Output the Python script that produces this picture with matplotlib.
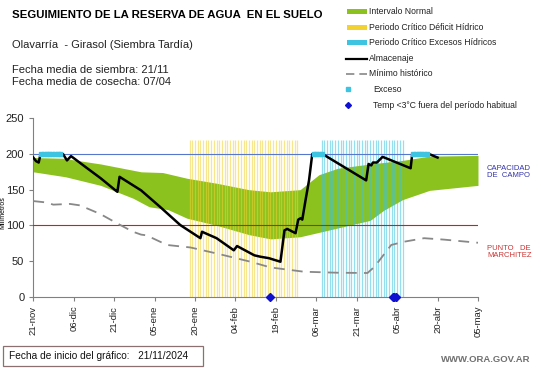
import matplotlib
matplotlib.use("Agg")
import matplotlib.pyplot as plt
from matplotlib.lines import Line2D
from matplotlib.patches import Rectangle
import numpy as np

plt.rcParams['font.family'] = ['Liberation Sans', 'DejaVu Sans']

# ---------------- data (days since 21-nov-2024) ----------------
tick_days = [0, 15, 30, 45, 60, 75, 90, 105, 120, 135, 150, 165]
tick_labels = ['21-nov', '06-dic', '21-dic', '05-ene', '20-ene', '04-feb',
               '19-feb', '06-mar', '21-mar', '05-abr', '20-abr', '05-may']

band_days = [0, 11, 25, 40, 48, 57, 68, 80, 88, 99, 106, 113, 125, 137, 147, 165]
band_upper = [195, 194, 186, 175, 174, 166, 159, 150, 147, 150, 171, 180, 186, 191, 197, 198]
band_low_days = [0, 12, 25, 37, 43, 50, 57, 68, 80, 88, 99, 107, 125, 130, 137, 147, 165]
band_lower = [175, 168, 156, 138, 126, 122, 110, 100, 87, 81, 84, 91, 107, 121, 136, 149, 156]

min_days = [0, 5, 7.4, 13.6, 17.3, 24.8, 31, 37, 40, 42, 49.6, 55.8, 58.3, 68, 80.6, 88,
            100.4, 112.8, 124, 126.6, 132.8, 137.5, 145, 152.4, 165]
min_hist = [134, 132, 129, 130, 128, 116, 103, 91, 87, 86, 72.5, 70, 69, 60.6, 49, 41,
            35, 33.6, 33.2, 42, 72.5, 77, 82, 80, 75.6]

alm_days = [0, 1, 2, 2.7, 11, 12.5, 14, 20, 25, 30.5, 31.2, 32, 40, 47, 54.5, 62, 62.6,
            68, 74.4, 75.6, 82, 84.3, 87.4, 91.7, 93.2, 94.2, 97.3, 98.3, 99.2, 99.8,
            101, 102.3, 103.5, 107.3, 123.5, 124.4, 125.4, 126, 127.5, 128, 129.6,
            140, 140.6, 146.8, 150]
almacenaje = [195, 190, 188, 200, 200, 191, 197, 180, 166, 149, 147, 168, 149, 126, 100.5,
              82, 91, 82, 65, 71, 58, 56, 54, 49, 93, 95, 89, 108, 110, 108,
              135, 163, 200, 200, 163, 186, 184, 188, 188, 190, 196,
              180, 200, 200, 195]

exceso_days = [3, 4, 5, 6, 7, 8, 9, 10, 104, 105, 106, 107, 141, 142, 143, 144, 145, 146]
exceso_vals = [200] * len(exceso_days)

deficit_days = list(range(58, 99))
excesos_crit_days = list(range(107, 138))
crit_top = 220

frost_days = [88, 133.5, 134, 134.5]
frost_vals = [0, 0, 0, 0]

capacidad = 200
marchitez = 100

# ---------------- colours ----------------
c_green = '#8cc21e'
c_yellow = '#f2d230'
c_cyan = '#3ec3e0'
c_blue_line = '#5577cc'
c_red_line = '#cc2020'

W, H = 541, 368
fig = plt.figure(figsize=(W / 100, H / 100), dpi=100)
fig.patch.set_facecolor('white')

ax = fig.add_axes([33.3 / W, 1 - 296.7 / H, (478 - 33.3) / W, (296.7 - 118.3) / H])
ax.set_xlim(0, 165)
ax.set_ylim(0, 250)

# green band
ub = np.interp(np.arange(0, 166), band_days, band_upper)
lb = np.interp(np.arange(0, 166), band_low_days, band_lower)
ax.fill_between(np.arange(0, 166), lb, ub, color=c_green, lw=0, zorder=1)

# critical period vertical lines
ax.vlines(deficit_days, 0, crit_top, colors=c_yellow, lw=0.9, alpha=0.55, zorder=2)
ax.vlines(excesos_crit_days, 0, crit_top, colors=c_cyan, lw=0.9, alpha=0.55, zorder=2)

# reference lines
ax.axhline(capacidad, color=c_blue_line, lw=0.8, zorder=3)
ax.axhline(marchitez, color=c_red_line, lw=0.8, zorder=3)

# minimum historic
ax.plot(min_days, min_hist, color='#888888', lw=1.3, dashes=(6, 4), zorder=4)

# storage
ax.plot(alm_days, almacenaje, color='black', lw=1.8, zorder=5)

# excess points
ax.plot(exceso_days, exceso_vals, ls='none', marker='s', ms=2.6, color=c_cyan, zorder=6)

# frost
ax.plot(frost_days, frost_vals, ls='none', marker='D', ms=4, color='#1010d0',
        zorder=7, clip_on=False)

for s in ['top', 'right']:
    ax.spines[s].set_visible(False)
for s in ['left', 'bottom']:
    ax.spines[s].set_color('#808080')
    ax.spines[s].set_linewidth(0.8)
ax.set_xticks(tick_days)
ax.set_xticklabels(tick_labels, rotation=90, fontsize=6.8, color='#222222')
ax.set_yticks([0, 50, 100, 150, 200, 250])
ax.tick_params(axis='y', labelsize=8, colors='#222222', length=3, color='#808080')
ax.tick_params(axis='x', length=3, color='#808080')
ax.set_ylabel('Milímetros', fontsize=5)
ax.yaxis.set_label_coords(-0.06, 0.47)

# right side labels
fig.text(487 / W, 1 - 172 / H, 'CAPACIDAD\nDE  CAMPO', color='#3333aa', fontsize=5.5,
         va='center', ha='left', linespacing=1.1)
fig.text(487 / W, 1 - 252 / H, 'PUNTO   DE\nMARCHITEZ', color='#cc3333', fontsize=5.5,
         va='center', ha='left', linespacing=1.1)

# titles
fig.text(12 / W, 1 - 15 / H, 'SEGUIMIENTO DE LA RESERVA DE AGUA  EN EL SUELO',
         fontsize=8.2, fontweight='bold', va='center', ha='left')
fig.text(12 / W, 1 - 45 / H, 'Olavarría  - Girasol (Siembra Tardía)', fontsize=8,
         va='center', ha='left', color='#222222')
fig.text(12 / W, 1 - 70 / H, 'Fecha media de siembra: 21/11', fontsize=8,
         va='center', ha='left', color='#222222')
fig.text(12 / W, 1 - 82 / H, 'Fecha media de cosecha: 07/04', fontsize=8,
         va='center', ha='left', color='#222222')

# manual legend
def fx(px):
    return px / W

def fy(py):
    return 1 - py / H

leg_rows = [11.7, 27.3, 42.7, 58.7, 73.7, 89.3, 105]
leg_text = ['Intervalo Normal', 'Periodo Crítico Déficit Hídrico',
            'Periodo Crítico Excesos Hídricos', 'Almacenaje', 'Mínimo histórico',
            'Exceso', 'Temp <3°C fuera del período habitual']
for y, col in zip(leg_rows[:3], [c_green, c_yellow, c_cyan]):
    fig.add_artist(Rectangle((fx(347), fy(y + 2.5)), fx(366.5) - fx(347), 5 / H,
                             transform=fig.transFigure, color=col, lw=0))
fig.add_artist(Line2D([fx(346), fx(367)], [fy(leg_rows[3])] * 2, color='black', lw=1.6,
                      transform=fig.transFigure))
fig.add_artist(Line2D([fx(346), fx(367)], [fy(leg_rows[4])] * 2, color='#888888', lw=1.2,
                      dashes=(5, 3), transform=fig.transFigure))
fig.add_artist(Line2D([fx(347.5)], [fy(leg_rows[5])], marker='s', ms=2.2, color=c_cyan,
                      ls='none', transform=fig.transFigure))
fig.add_artist(Line2D([fx(347.5)], [fy(leg_rows[6])], marker='D', ms=3, color='#1010d0',
                      ls='none', transform=fig.transFigure))
for i, (y, t) in enumerate(zip(leg_rows, leg_text)):
    x0 = 369 if i < 5 else 373
    fig.text(fx(x0), fy(y), t, fontsize=6.2, va='center', ha='left', color='#222222')

# footer
fig.add_artist(Rectangle((fx(3), fy(366)), fx(203) - fx(3), 20 / H,
                         transform=fig.transFigure, fill=False, edgecolor='#8a7070', lw=0.9))
fig.text(fx(9), fy(356), 'Fecha de inicio del gráfico:   21/11/2024', fontsize=7.3,
         va='center', ha='left', color='#111111')
fig.text(fx(530), fy(360), 'WWW.ORA.GOV.AR', fontsize=6.8, fontweight='bold',
         va='center', ha='right', color='#707070')

fig.savefig('out.png', dpi=100, facecolor='white')
